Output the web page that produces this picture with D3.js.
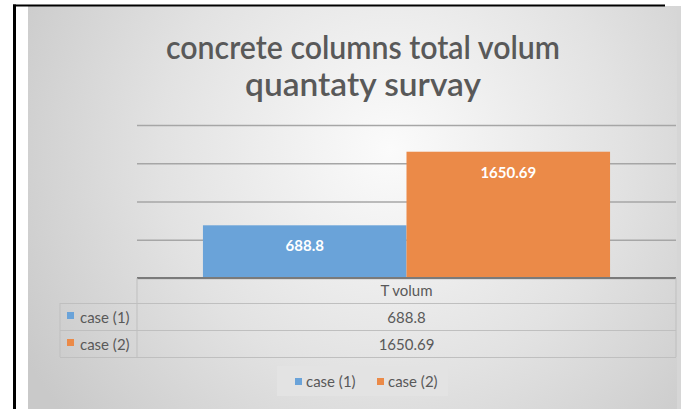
<!DOCTYPE html>
<html>
<head>
<meta charset="utf-8">
<script src="https://cdn.jsdelivr.net/npm/d3@7"></script>
<style>
  html, body { margin: 0; padding: 0; background: #ffffff; }
  svg { display: block; }
  text { font-family: Lato, "Open Sans", sans-serif; }
</style>
</head>
<body>
<svg id="chart" width="681" height="409"></svg>
<script>
// Chart data
const categories = ["T volum"];
const seriesNames = ["case (1)", "case (2)"];
const case1Values = [688.8];
const case2Values = [1650.69];
const seriesColors = ["#6aa3d9", "#eb8a48"];
const yTicks = [0, 500, 1000, 1500, 2000];
const titleLines = ["concrete columns total volum", "quantaty survay"];

const series = [
  { name: seriesNames[0], values: case1Values, color: seriesColors[0] },
  { name: seriesNames[1], values: case2Values, color: seriesColors[1] }
];

const svg = d3.select("#chart");
const W = 681, H = 409;

// Frame and backdrop
const defs = svg.append("defs");
const grad = defs.append("radialGradient")
  .attr("id", "bg")
  .attr("gradientUnits", "userSpaceOnUse")
  .attr("cx", 390).attr("cy", 150).attr("r", 420)
  .attr("fx", 390).attr("fy", 150);
grad.append("stop").attr("offset", "0%").attr("stop-color", "#fbfbfb");
grad.append("stop").attr("offset", "55%").attr("stop-color", "#e2e2e2");
grad.append("stop").attr("offset", "100%").attr("stop-color", "#c9c9c9");

svg.append("rect")
  .attr("x", 28).attr("y", 6).attr("width", 649).attr("height", H - 6)
  .attr("fill", "url(#bg)");
svg.append("rect")
  .attr("x", 677).attr("y", 6).attr("width", 4).attr("height", H - 6)
  .attr("fill", "#d6d6d6");

svg.append("line")
  .attr("x1", 13).attr("x2", 665).attr("y1", 5.5).attr("y2", 5.5)
  .attr("stroke", "#000").attr("stroke-width", 2);
svg.append("line")
  .attr("x1", 14.5).attr("x2", 14.5).attr("y1", 4.5).attr("y2", H)
  .attr("stroke", "#000").attr("stroke-width", 3);

// Title
svg.append("g").selectAll("text")
  .data(titleLines)
  .join("text")
  .attr("x", 363)
  .attr("y", (d, i) => 59 + i * 37)
  .attr("text-anchor", "middle")
  .attr("font-size", 32)
  .attr("font-weight", 600)
  .attr("fill", "#595959")
  .attr("textLength", (d, i) => i === 0 ? 394 : 236)
  .attr("lengthAdjust", "spacingAndGlyphs")
  .text(d => d);

// Plot scales
const plotLeft = 137, plotRight = 676, baseY = 278, topY = 125;
const y = d3.scaleLinear().domain([0, 2000]).range([baseY, topY]);
const x0 = d3.scaleBand().domain(categories).range([plotLeft, plotRight])
  .paddingInner(0).paddingOuter(0.162);
const x1 = d3.scaleBand().domain(seriesNames).range([0, x0.bandwidth()]).padding(0);

// Gridlines
const grid = svg.append("g")
  .attr("transform", `translate(${plotLeft},0)`)
  .call(d3.axisLeft(y).tickValues(yTicks).tickSize(-(plotRight - plotLeft)).tickFormat(""));
grid.select(".domain").remove();
grid.selectAll(".tick line").attr("stroke", "#a6a6a6").attr("stroke-width", 1.5);

// Bars
const barG = svg.append("g");
categories.forEach((cat, ci) => {
  const g = barG.append("g").attr("transform", `translate(${x0(cat)},0)`);
  g.selectAll("rect")
    .data(series)
    .join("rect")
    .attr("x", d => x1(d.name))
    .attr("y", d => y(d.values[ci]))
    .attr("width", x1.bandwidth())
    .attr("height", d => baseY - y(d.values[ci]))
    .attr("fill", d => d.color);
  g.selectAll("text")
    .data(series)
    .join("text")
    .attr("x", d => x1(d.name) + x1.bandwidth() / 2)
    .attr("y", d => y(d.values[ci]) + 26)
    .attr("text-anchor", "middle")
    .attr("font-size", 15)
    .attr("font-weight", 700)
    .attr("fill", "#ffffff")
    .text(d => d.values[ci]);
});

// Category axis line
svg.append("line")
  .attr("x1", plotLeft).attr("x2", plotRight)
  .attr("y1", baseY).attr("y2", baseY)
  .attr("stroke", "#7a7a7a").attr("stroke-width", 2);

// Data table
const tableLeft = 60;
const rowY = [baseY, 303, 330, 357];
const tbl = svg.append("g").attr("stroke", "#bfbfbf").attr("stroke-width", 1);
tbl.append("line").attr("x1", plotLeft).attr("x2", plotLeft).attr("y1", baseY).attr("y2", rowY[3]);
tbl.append("line").attr("x1", plotRight).attr("x2", plotRight).attr("y1", baseY).attr("y2", rowY[3]);
tbl.append("line").attr("x1", tableLeft).attr("x2", tableLeft).attr("y1", rowY[1]).attr("y2", rowY[3]);
[1, 2, 3].forEach(i => {
  tbl.append("line").attr("x1", tableLeft).attr("x2", plotRight)
    .attr("y1", rowY[i] + 0.5).attr("y2", rowY[i] + 0.5);
});

const txtColor = "#595959";
categories.forEach(cat => {
  svg.append("text")
    .attr("x", x0(cat) + x0.bandwidth() / 2).attr("y", 296)
    .attr("text-anchor", "middle").attr("font-size", 15).attr("fill", txtColor)
    .text(cat);
});
series.forEach((s, i) => {
  const cy = rowY[i + 1] + 20;
  svg.append("rect")
    .attr("x", 67).attr("y", cy - 11).attr("width", 7).attr("height", 7)
    .attr("fill", s.color);
  svg.append("text")
    .attr("x", 80).attr("y", cy).attr("font-size", 15).attr("fill", txtColor)
    .text(s.name);
  categories.forEach((cat, ci) => {
    svg.append("text")
      .attr("x", x0(cat) + x0.bandwidth() / 2).attr("y", cy)
      .attr("text-anchor", "middle").attr("font-size", 15).attr("fill", txtColor)
      .text(s.values[ci]);
  });
});

// Legend
const legend = svg.append("g");
legend.append("rect")
  .attr("x", 277).attr("y", 366).attr("width", 171).attr("height", 30)
  .attr("fill", "#e3e3e3");
const legendX = [295, 377];
series.forEach((s, i) => {
  legend.append("rect")
    .attr("x", legendX[i]).attr("y", 378).attr("width", 7).attr("height", 7)
    .attr("fill", s.color);
  legend.append("text")
    .attr("x", legendX[i] + 11).attr("y", 387)
    .attr("font-size", 15).attr("fill", txtColor)
    .text(s.name);
});
</script>
</body>
</html>
